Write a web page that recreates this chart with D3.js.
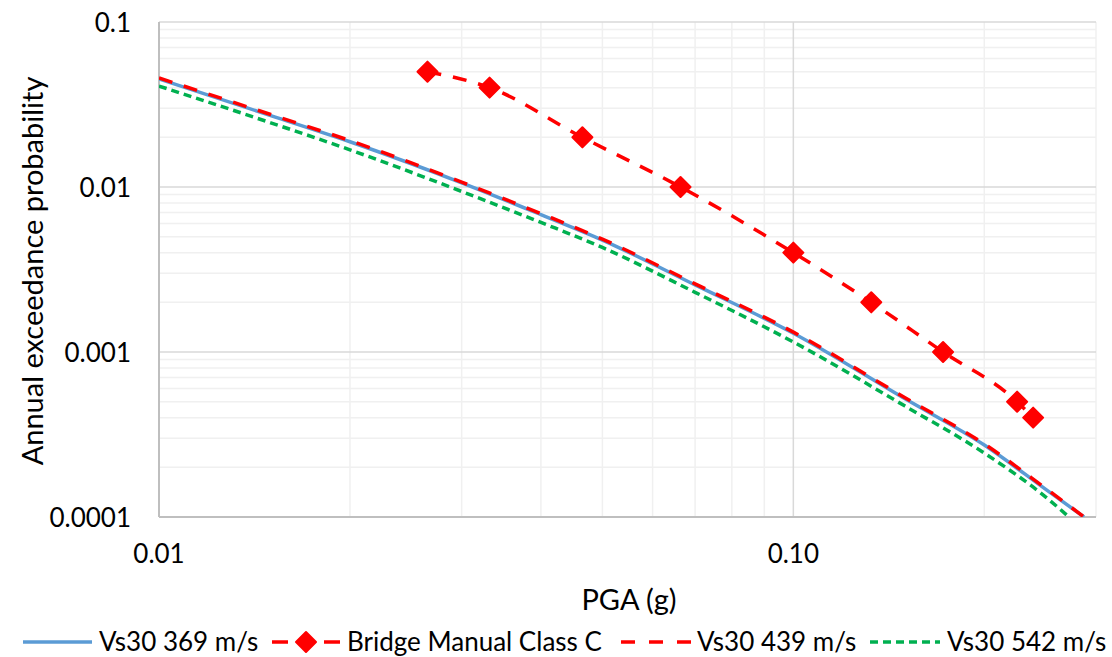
<!DOCTYPE html>
<html>
<head>
<meta charset="utf-8">
<script src="https://cdn.jsdelivr.net/npm/d3@7"></script>
<style>
  body { margin: 0; background: #fff; }
  text { font-family: Lato, "Open Sans", sans-serif; fill: #000; }
</style>
</head>
<body>
<div id="canvas"></div>
<script>
"use strict"

/* Chart data */
let pgaCurve = [0.01, 0.015, 0.02, 0.03, 0.04, 0.05, 0.07, 0.1, 0.15, 0.2, 0.25, 0.2873];
let vs369 = [0.0452, 0.0271, 0.0188, 0.0106, 0.0068, 0.00477, 0.00255, 0.0013, 0.00052, 0.000273, 0.000147, 0.0001];
let vs439 = [0.0458, 0.0275, 0.0191, 0.0107, 0.0069, 0.00483, 0.00259, 0.00132, 0.000528, 0.000277, 0.000149, 0.0001];
let pgaGreen = [0.01, 0.015, 0.02, 0.03, 0.04, 0.05, 0.07, 0.1, 0.15, 0.2, 0.25, 0.272];
let vs542 = [0.0409, 0.0245, 0.0168, 0.0094, 0.0061, 0.0043, 0.0023, 0.00115, 0.00047, 0.000244, 0.000132, 0.0001];
let bridgePga = [0.0265, 0.0332, 0.0465, 0.0664, 0.1, 0.1327, 0.1722, 0.2253, 0.2388];
let bridgeProb = [0.05, 0.04, 0.02, 0.01, 0.004, 0.002, 0.001, 0.0005, 0.0004];
let xTicks = [0.01, 0.1];
let xTickLabels = ["0.01", "0.10"];
let yTicks = [0.1, 0.01, 0.001, 0.0001];
let yTickLabels = ["0.1", "0.01", "0.001", "0.0001"];

/* Drawing config */
let svgWidth = 1112;
let svgHeight = 657;
let plotLeft = 159, plotRight = 1096, plotTop = 22, plotBottom = 517;

let svg = d3.select("#canvas")
    .append("svg")
    .attr("width", svgWidth)
    .attr("height", svgHeight);

let xScale = d3.scaleLog()
    .domain([0.01, 0.3])
    .range([plotLeft, plotRight]);

let yScale = d3.scaleLog()
    .domain([0.0001, 0.1])
    .range([plotBottom, plotTop]);

/* minor + major gridlines */
let xMinor = [];
[0.01, 0.1].forEach(function (d) {
    for (let k = 2; k <= 9; k++) {
        if (d * k <= 0.3 + 1e-9) xMinor.push(d * k);
    }
});
let yMinor = [];
[0.0001, 0.001, 0.01].forEach(function (d) {
    for (let k = 2; k <= 9; k++) yMinor.push(d * k);
});

svg.selectAll(".xminor")
    .data(xMinor)
    .join("line")
    .attr("x1", d => xScale(d))
    .attr("x2", d => xScale(d))
    .attr("y1", plotTop)
    .attr("y2", plotBottom)
    .attr("stroke", "#f0f0f0")
    .attr("stroke-width", 1.5);

svg.selectAll(".yminor")
    .data(yMinor)
    .join("line")
    .attr("x1", plotLeft)
    .attr("x2", plotRight)
    .attr("y1", d => yScale(d))
    .attr("y2", d => yScale(d))
    .attr("stroke", "#f0f0f0")
    .attr("stroke-width", 1.5);

svg.selectAll(".xmajor")
    .data(xTicks)
    .join("line")
    .attr("x1", d => xScale(d))
    .attr("x2", d => xScale(d))
    .attr("y1", plotTop)
    .attr("y2", plotBottom)
    .attr("stroke", "#d9d9d9")
    .attr("stroke-width", 1.5);

svg.selectAll(".ymajor")
    .data(yTicks)
    .join("line")
    .attr("x1", plotLeft)
    .attr("x2", plotRight)
    .attr("y1", d => yScale(d))
    .attr("y2", d => yScale(d))
    .attr("stroke", "#d9d9d9")
    .attr("stroke-width", 1.5);

/* axis lines */
svg.append("line")
    .attr("x1", plotLeft).attr("x2", plotLeft)
    .attr("y1", plotTop).attr("y2", plotBottom)
    .attr("stroke", "#bfbfbf").attr("stroke-width", 2);
svg.append("line")
    .attr("x1", plotLeft).attr("x2", plotRight)
    .attr("y1", plotBottom).attr("y2", plotBottom)
    .attr("stroke", "#bfbfbf").attr("stroke-width", 2);

/* tick labels */
svg.selectAll(".xlab")
    .data(xTicks)
    .join("text")
    .attr("x", d => xScale(d))
    .attr("y", 563)
    .attr("text-anchor", "middle")
    .attr("font-size", 26)
    .text((d, i) => xTickLabels[i]);

svg.selectAll(".ylab")
    .data(yTicks)
    .join("text")
    .attr("x", 131)
    .attr("y", d => yScale(d) + 10)
    .attr("text-anchor", "end")
    .attr("font-size", 26)
    .text((d, i) => yTickLabels[i]);

/* axis titles */
svg.append("text")
    .attr("x", 629)
    .attr("y", 610)
    .attr("text-anchor", "middle")
    .attr("font-size", 29)
    .text("PGA (g)");

svg.append("text")
    .attr("transform", "translate(43," + 271 + ") rotate(-90)")
    .attr("text-anchor", "middle")
    .attr("font-size", 29)
    .text("Annual exceedance probability");

/* series */
svg.append("clipPath")
    .attr("id", "plotclip")
    .append("rect")
    .attr("x", plotLeft).attr("y", plotTop - 5)
    .attr("width", plotRight - plotLeft).attr("height", plotBottom - plotTop + 5);

let line = d3.line()
    .x(d => xScale(d[0]))
    .y(d => yScale(d[1]))
    .curve(d3.curveMonotoneX);

let plot = svg.append("g").attr("clip-path", "url(#plotclip)");

plot.append("path")
    .attr("d", line(d3.zip(pgaCurve, vs369)))
    .attr("fill", "none")
    .attr("stroke", "#5b9bd5")
    .attr("stroke-width", 3.5);

plot.append("path")
    .attr("d", line(d3.zip(pgaCurve, vs439)))
    .attr("fill", "none")
    .attr("stroke", "#ff0000")
    .attr("stroke-width", 3.5)
    .attr("stroke-dasharray", "14,12");

plot.append("path")
    .attr("d", line(d3.zip(pgaGreen, vs542)))
    .attr("fill", "none")
    .attr("stroke", "#00b050")
    .attr("stroke-width", 3.5)
    .attr("stroke-dasharray", "8,5");

let bridge = d3.zip(bridgePga, bridgeProb);
plot.append("path")
    .attr("d", line(bridge))
    .attr("fill", "none")
    .attr("stroke", "#ff0000")
    .attr("stroke-width", 3.5)
    .attr("stroke-dasharray", "14,12");

let diamond = d3.symbol().type(d3.symbolSquare).size(200);
svg.selectAll(".marker")
    .data(bridge)
    .join("path")
    .attr("d", diamond)
    .attr("transform", d => "translate(" + xScale(d[0]) + "," + yScale(d[1]) + ") rotate(45)")
    .attr("fill", "#ff0000")
    .attr("stroke", "#ff0000")
    .attr("stroke-width", 2)
    .attr("stroke-linejoin", "round");

/* legend */
let legendY = 642;
let legendItems = [
    { label: "Vs30 369 m/s", x1: 23, x2: 92, tx: 99, color: "#5b9bd5", dash: null, marker: false },
    { label: "Bridge Manual Class C", x1: 272, x2: 340, tx: 347, color: "#ff0000", dash: "16,36", marker: true },
    { label: "Vs30 439 m/s", x1: 621, x2: 692, tx: 697, color: "#ff0000", dash: "14,14", marker: false },
    { label: "Vs30 542 m/s", x1: 870, x2: 940, tx: 947, color: "#00b050", dash: "8,5", marker: false }
];

legendItems.forEach(function (item) {
    svg.append("line")
        .attr("x1", item.x1).attr("x2", item.x2)
        .attr("y1", legendY).attr("y2", legendY)
        .attr("stroke", item.color)
        .attr("stroke-width", 3.5)
        .attr("stroke-dasharray", item.dash);
    if (item.marker) {
        svg.append("path")
            .attr("d", diamond)
            .attr("transform", "translate(" + ((item.x1 + item.x2) / 2) + "," + legendY + ") rotate(45)")
            .attr("fill", item.color)
            .attr("stroke", item.color)
            .attr("stroke-width", 2)
            .attr("stroke-linejoin", "round");
    }
    svg.append("text")
        .attr("x", item.tx)
        .attr("y", legendY + 9)
        .attr("font-size", 26)
        .text(item.label);
});
</script>
</body>
</html>
